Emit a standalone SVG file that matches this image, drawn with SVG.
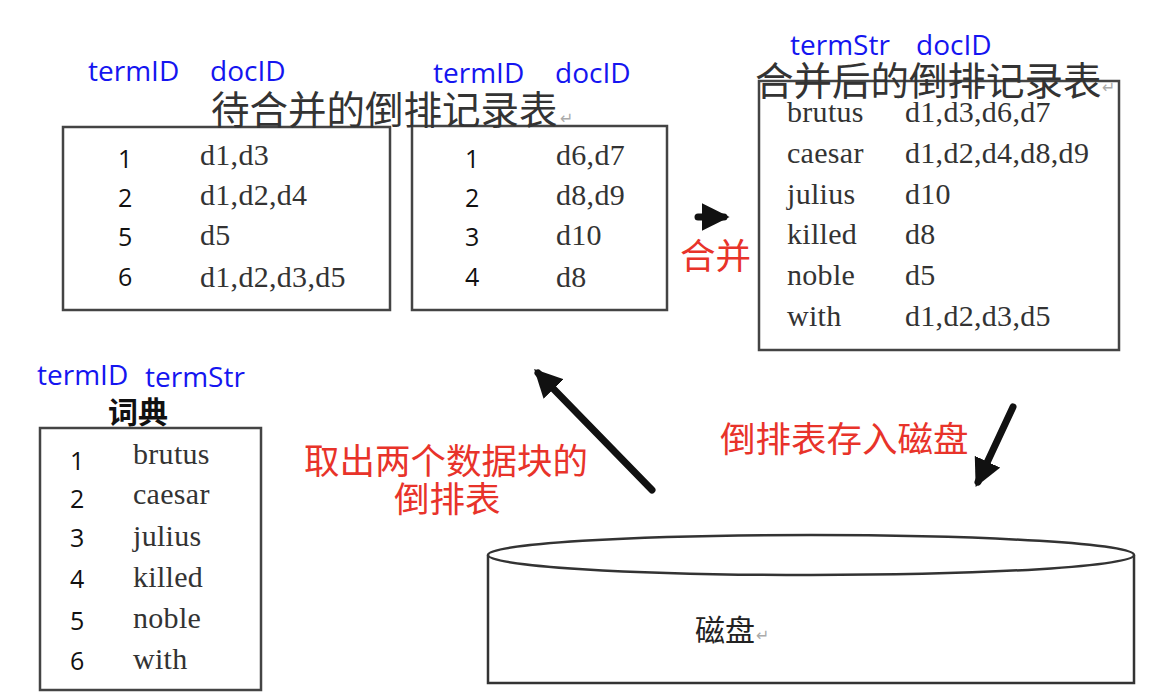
<svg xmlns="http://www.w3.org/2000/svg" width="1158" height="700" viewBox="0 0 1158 700">
<defs>
<style>
.box{fill:#fff;stroke:#444;stroke-width:2.5}
.blue{fill:#1515f0;font-family:"Open Sans","Noto Sans",sans-serif;font-size:28px}
.num{fill:#111;font-family:"Open Sans","Noto Sans",sans-serif;font-size:25px}
.ser{fill:#333;font-family:"Liberation Serif",serif;font-size:30px;letter-spacing:0.3px}
.title{fill:#333;font-family:"Noto Sans CJK SC",sans-serif;font-size:38.5px}
.red{fill:#e8332a;font-family:"Noto Sans CJK SC",sans-serif;font-size:35.5px}
.pm{fill:#aaa;font-family:"DejaVu Sans",sans-serif;font-size:16px}
.arr{stroke:#111;stroke-width:7;fill:none;stroke-linecap:round}
</style>
<marker id="ah" viewBox="0 0 10 10" refX="8" refY="5" markerWidth="4" markerHeight="4" orient="auto" markerUnits="strokeWidth">
<path d="M0,0 L10,5 L0,10 z" fill="#111"/>
</marker>
</defs>
<rect width="1158" height="700" fill="#fff"/>

<g id="table1">
<text class="blue" x="88" y="81">termID</text>
<text class="blue" x="210" y="81">docID</text>
<rect class="box" x="63" y="127" width="327" height="183"/>
<text class="num" x="118" y="168">1</text><text class="ser" x="200" y="165">d1,d3</text>
<text class="num" x="118" y="207">2</text><text class="ser" x="200" y="205">d1,d2,d4</text>
<text class="num" x="118" y="246">5</text><text class="ser" x="200" y="245">d5</text>
<text class="num" x="118" y="286">6</text><text class="ser" x="200" y="287">d1,d2,d3,d5</text>
</g>

<g id="table2">
<text class="blue" x="433" y="83">termID</text>
<text class="blue" x="555" y="83">docID</text>
<rect class="box" x="412" y="126" width="255" height="184"/>
<text class="num" x="465" y="168">1</text><text class="ser" x="556" y="165">d6,d7</text>
<text class="num" x="465" y="207">2</text><text class="ser" x="556" y="205">d8,d9</text>
<text class="num" x="465" y="246">3</text><text class="ser" x="556" y="245">d10</text>
<text class="num" x="465" y="286">4</text><text class="ser" x="556" y="287">d8</text>
</g>

<g id="title1">
<text class="title" x="211" y="124">待合并的倒排记录表</text>
<text class="pm" x="560" y="124">↵</text>
</g>

<g id="merged">
<rect class="box" x="759" y="81" width="360" height="269"/>
<text class="blue" x="790" y="55">termStr</text>
<text class="blue" x="916" y="55">docID</text>
<text class="title" x="755" y="95">合并后的倒排记录表</text>
<text class="pm" x="1102" y="93">↵</text>
<text class="ser" x="787" y="122">brutus</text><text class="ser" x="905" y="122">d1,d3,d6,d7</text>
<text class="ser" x="787" y="163">caesar</text><text class="ser" x="905" y="163">d1,d2,d4,d8,d9</text>
<text class="ser" x="787" y="204">julius</text><text class="ser" x="905" y="204">d10</text>
<text class="ser" x="787" y="244">killed</text><text class="ser" x="905" y="244">d8</text>
<text class="ser" x="787" y="285">noble</text><text class="ser" x="905" y="285">d5</text>
<text class="ser" x="787" y="326">with</text><text class="ser" x="905" y="326">d1,d2,d3,d5</text>
</g>

<g id="dict">
<text class="blue" x="37" y="385">termID</text>
<text class="blue" x="145" y="387">termStr</text>
<text class="title" x="108" y="423" style="font-size:30px;font-weight:bold;fill:#111">词典</text>
<rect class="box" x="40" y="428" width="221" height="262"/>
<text class="num" x="70" y="470">1</text><text class="ser" x="133" y="464">brutus</text>
<text class="num" x="70" y="508">2</text><text class="ser" x="133" y="504">caesar</text>
<text class="num" x="70" y="547">3</text><text class="ser" x="133" y="546">julius</text>
<text class="num" x="70" y="588">4</text><text class="ser" x="133" y="587">killed</text>
<text class="num" x="70" y="630">5</text><text class="ser" x="133" y="628">noble</text>
<text class="num" x="70" y="670">6</text><text class="ser" x="133" y="669">with</text>
</g>

<g id="disk">
<path d="M488,555 L488,683 L1134,683 L1134,555" fill="#fff" stroke="#333" stroke-width="2.5"/>
<ellipse cx="811" cy="555" rx="323" ry="20" fill="#fff" stroke="#333" stroke-width="2.5"/>
<text class="title" x="695" y="641" style="font-size:30px;fill:#222">磁盘</text>
<text class="pm" x="756" y="641">↵</text>
</g>

<g id="labels">
<text class="red" x="680" y="269">合并</text>
<text class="red" x="304" y="474">取出两个数据块的</text>
<text class="red" x="394" y="512">倒排表</text>
<text class="red" x="720" y="452">倒排表存入磁盘</text>
</g>

<g id="connectors">
<line class="arr" x1="698" y1="217" x2="724" y2="217" marker-end="url(#ah)"/>
<line class="arr" x1="652" y1="490" x2="538" y2="373" marker-end="url(#ah)"/>
<line class="arr" x1="1013" y1="407" x2="978" y2="482" marker-end="url(#ah)"/>
</g>
</svg>
